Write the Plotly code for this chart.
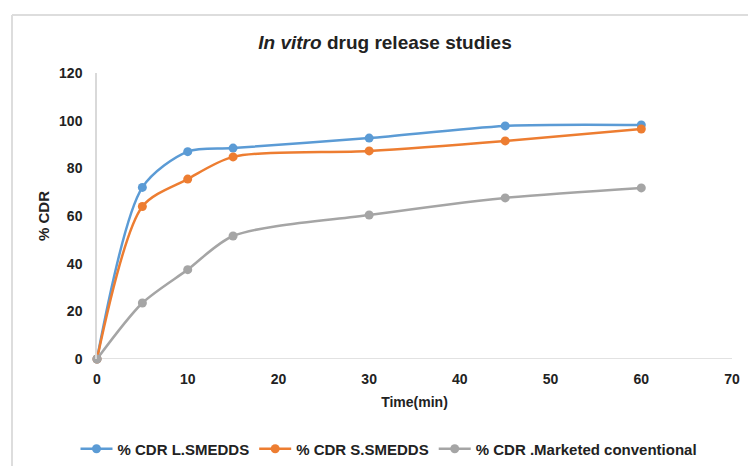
import plotly.graph_objects as go

time_min = [0, 5, 10, 15, 30, 45, 60]
cdr_l_smedds = [0, 72, 87, 88.5, 92.7, 97.8, 98.2]
cdr_s_smedds = [0, 64, 75.5, 84.8, 87.3, 91.5, 96.5]
cdr_marketed = [0, 23.5, 37.5, 51.6, 60.4, 67.6, 71.8]

series_names = ["% CDR L.SMEDDS", "% CDR S.SMEDDS", "% CDR .Marketed conventional"]
series_colors = ["#5B9BD5", "#ED7D31", "#A5A5A5"]
x_ticks = [0, 10, 20, 30, 40, 50, 60, 70]
y_ticks = [0, 20, 40, 60, 80, 100, 120]

W, H = 748, 466
L, R, T, B = 97, 16, 73, 107
PW, PH = W - L - R, H - T - B


def px_x(p):
    return (p - L) / PW


def px_y(p):
    return (H - B - p) / PH


fig = go.Figure()
for name, vals, col in zip(series_names, [cdr_l_smedds, cdr_s_smedds, cdr_marketed], series_colors):
    fig.add_trace(go.Scatter(
        x=time_min, y=vals, name=name, mode="lines+markers",
        line=dict(color=col, width=2.5, shape="spline", smoothing=0.8),
        marker=dict(color=col, size=9),
        cliponaxis=False,
    ))

font_family = "Liberation Sans, Arial, sans-serif"
txt = "#222222"
fig.update_layout(
    width=W, height=H,
    margin=dict(l=L, r=R, t=T, b=B, autoexpand=False),
    paper_bgcolor="white", plot_bgcolor="white",
    font=dict(family=font_family, color=txt),
    title=dict(text="<i>In vitro</i> drug release studies", x=385 / W, xanchor="center",
               y=1 - 42 / H, yanchor="middle",
               font=dict(size=19, color=txt, family=font_family, weight="bold")),
    xaxis=dict(range=[0, 70], tickvals=x_ticks, showgrid=False, zeroline=False,
               showline=False, ticks="", ticklabelstandoff=10,
               tickfont=dict(size=14, color=txt, weight="bold"),
               title=dict(text="Time(min)", font=dict(size=14, color=txt, weight="bold"), standoff=11)),
    yaxis=dict(range=[0, 120], tickvals=y_ticks, showgrid=False, zeroline=False,
               showline=True, linecolor="#D9D9D9", linewidth=1.5, ticks="",
               ticklabelstandoff=10,
               tickfont=dict(size=14, color=txt, weight="bold"),
               title=dict(text="% CDR", font=dict(size=15, color=txt, weight="bold"), standoff=6)),
    legend=dict(orientation="h", x=px_x(389), xanchor="center", y=px_y(449), yanchor="middle",
                font=dict(size=15, color=txt, weight="bold"), itemwidth=32, tracegroupgap=0),
    showlegend=True,
)
fig.add_shape(type="line", xref="x", yref="y", x0=0, x1=70, y0=0, y1=0,
              line=dict(color="#D9D9D9", width=1.5), layer="below")
# chart-area border (left and top edges visible)
fig.add_shape(type="line", xref="paper", yref="paper",
              x0=px_x(12), x1=px_x(12), y0=px_y(470), y1=px_y(15),
              line=dict(color="#DDDDDD", width=2), layer="below")
fig.add_shape(type="line", xref="paper", yref="paper",
              x0=px_x(12), x1=px_x(760), y0=px_y(15), y1=px_y(15),
              line=dict(color="#DDDDDD", width=2), layer="below")
fig.write_html("out.html")
